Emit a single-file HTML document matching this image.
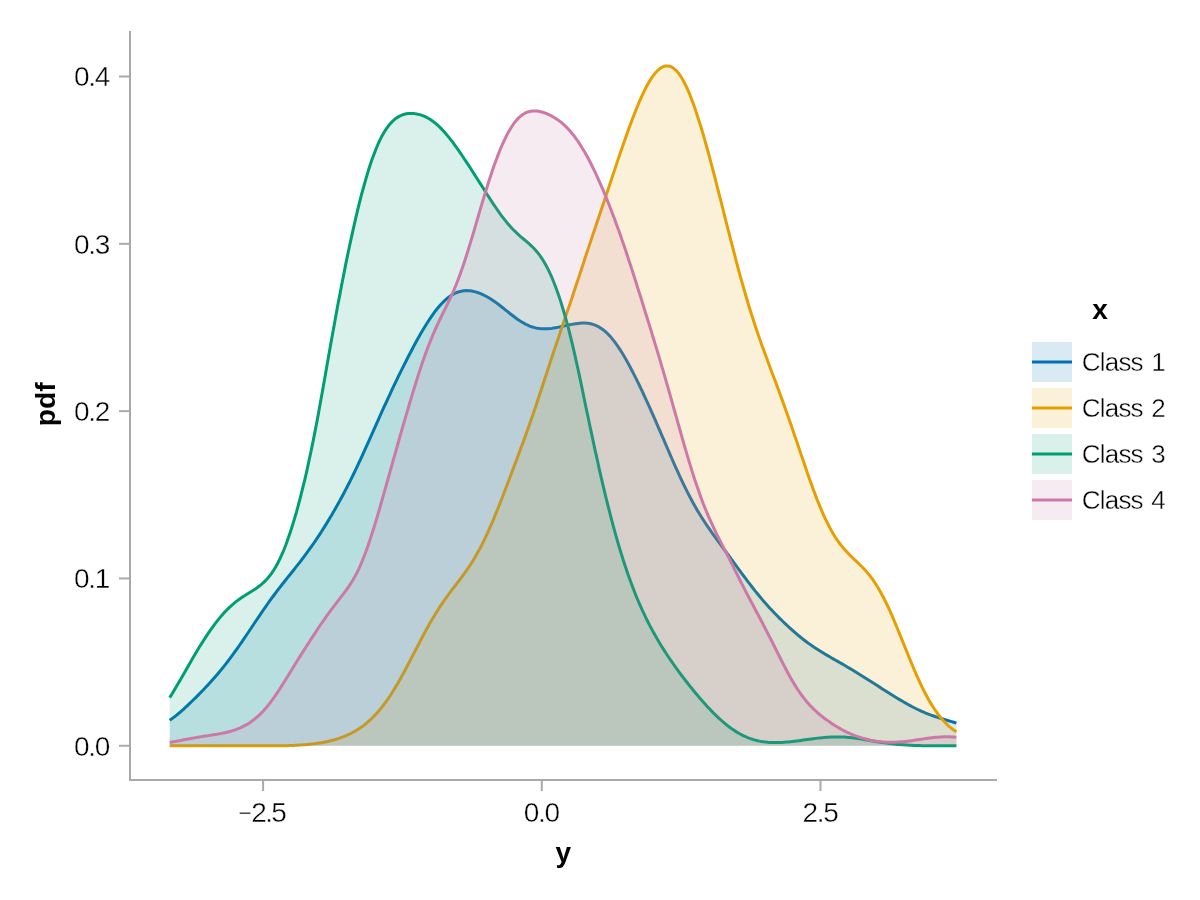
<!DOCTYPE html>
<html lang="en"><head><meta charset="utf-8"><title>Density plot</title>
<style>
html,body{margin:0;padding:0;background:#fff;}
body{width:1200px;height:900px;overflow:hidden;}
svg{display:block;}
text{font-family:"Liberation Sans",sans-serif;fill:#000;}
.tk{font-size:28px;letter-spacing:-1.25px;stroke:#fff;stroke-width:0.4px;paint-order:fill stroke;}
.lg{font-size:26px;letter-spacing:-0.8px;word-spacing:2px;stroke:#fff;stroke-width:0.4px;paint-order:fill stroke;}
.lb{font-size:28px;font-weight:bold;}
</style></head><body>
<svg width="1200" height="900" viewBox="0 0 1200 900">
<rect width="1200" height="900" fill="#fff"/>
<g id="plot">
<path d="M169.7,720.27 L171.7,718.85 L173.7,717.37 L175.7,715.83 L177.7,714.21 L179.7,712.54 L181.7,710.81 L183.7,709.02 L185.7,707.19 L187.7,705.33 L189.7,703.43 L191.7,701.50 L193.7,699.55 L195.7,697.57 L197.7,695.57 L199.7,693.55 L201.7,691.50 L203.7,689.43 L205.7,687.32 L207.7,685.19 L209.7,683.01 L211.7,680.80 L213.7,678.55 L215.7,676.26 L217.7,673.92 L219.7,671.53 L221.7,669.10 L223.7,666.61 L225.7,664.08 L227.7,661.50 L229.7,658.87 L231.7,656.18 L233.7,653.45 L235.7,650.68 L237.7,647.86 L239.7,645.00 L241.7,642.10 L243.7,639.18 L245.7,636.22 L247.7,633.25 L249.7,630.26 L251.7,627.26 L253.7,624.27 L255.7,621.27 L257.7,618.29 L259.7,615.33 L261.7,612.39 L263.7,609.48 L265.7,606.60 L267.7,603.76 L269.7,600.96 L271.7,598.21 L273.7,595.49 L275.7,592.81 L277.7,590.18 L279.7,587.58 L281.7,585.01 L283.7,582.47 L285.7,579.95 L287.7,577.44 L289.7,574.94 L291.7,572.45 L293.7,569.95 L295.7,567.43 L297.7,564.89 L299.7,562.33 L301.7,559.74 L303.7,557.11 L305.7,554.43 L307.7,551.71 L309.7,548.95 L311.7,546.13 L313.7,543.26 L315.7,540.34 L317.7,537.36 L319.7,534.33 L321.7,531.24 L323.7,528.10 L325.7,524.90 L327.7,521.64 L329.7,518.33 L331.7,514.96 L333.7,511.54 L335.7,508.05 L337.7,504.50 L339.7,500.89 L341.7,497.21 L343.7,493.47 L345.7,489.66 L347.7,485.78 L349.7,481.83 L351.7,477.81 L353.7,473.72 L355.7,469.57 L357.7,465.36 L359.7,461.08 L361.7,456.76 L363.7,452.38 L365.7,447.97 L367.7,443.52 L369.7,439.04 L371.7,434.55 L373.7,430.05 L375.7,425.54 L377.7,421.04 L379.7,416.56 L381.7,412.09 L383.7,407.65 L385.8,403.24 L387.8,398.85 L389.8,394.51 L391.8,390.19 L393.8,385.92 L395.9,381.68 L397.9,377.48 L399.9,373.31 L402.0,369.17 L404.0,365.08 L406.1,361.01 L408.1,356.99 L410.2,353.00 L412.3,349.06 L414.3,345.16 L416.4,341.33 L418.5,337.55 L420.6,333.85 L422.7,330.23 L424.8,326.71 L427.0,323.29 L429.1,320.00 L431.2,316.84 L433.3,313.83 L435.4,310.97 L437.6,308.28 L439.7,305.78 L441.8,303.46 L443.9,301.33 L446.0,299.41 L448.0,297.68 L450.1,296.15 L452.1,294.83 L454.2,293.69 L456.2,292.75 L458.2,291.99 L460.2,291.41 L462.2,290.99 L464.1,290.72 L466.1,290.61 L468.0,290.63 L469.9,290.78 L471.8,291.05 L473.7,291.43 L475.6,291.91 L477.5,292.49 L479.4,293.17 L481.2,293.93 L483.1,294.78 L485.0,295.72 L486.9,296.73 L488.8,297.82 L490.7,298.98 L492.6,300.22 L494.5,301.52 L496.4,302.89 L498.3,304.30 L500.2,305.77 L502.1,307.28 L504.1,308.81 L506.0,310.37 L508.0,311.93 L509.9,313.49 L511.9,315.03 L513.9,316.54 L515.8,318.00 L517.8,319.41 L519.8,320.75 L521.8,322.01 L523.8,323.17 L525.7,324.24 L527.7,325.20 L529.7,326.05 L531.7,326.79 L533.7,327.41 L535.7,327.92 L537.7,328.32 L539.7,328.60 L541.7,328.79 L543.7,328.87 L545.7,328.87 L547.7,328.78 L549.7,328.62 L551.7,328.39 L553.7,328.10 L555.7,327.76 L557.7,327.39 L559.7,326.98 L561.7,326.55 L563.7,326.11 L565.7,325.66 L567.7,325.22 L569.7,324.79 L571.7,324.38 L573.7,324.00 L575.7,323.67 L577.7,323.40 L579.7,323.19 L581.7,323.06 L583.7,323.01 L585.7,323.08 L587.7,323.25 L589.7,323.56 L591.7,324.00 L593.7,324.60 L595.7,325.36 L597.7,326.29 L599.7,327.41 L601.7,328.71 L603.7,330.20 L605.7,331.89 L607.7,333.78 L609.7,335.86 L611.7,338.13 L613.7,340.60 L615.7,343.25 L617.7,346.07 L619.7,349.06 L621.7,352.21 L623.7,355.51 L625.7,358.95 L627.7,362.51 L629.7,366.19 L631.7,369.97 L633.7,373.86 L635.7,377.83 L637.7,381.89 L639.7,386.02 L641.7,390.22 L643.7,394.49 L645.7,398.81 L647.7,403.19 L649.7,407.63 L651.7,412.11 L653.7,416.63 L655.7,421.19 L657.7,425.78 L659.7,430.40 L661.7,435.04 L663.7,439.69 L665.7,444.35 L667.7,448.99 L669.7,453.62 L671.7,458.23 L673.7,462.79 L675.7,467.30 L677.7,471.74 L679.7,476.12 L681.7,480.41 L683.7,484.60 L685.7,488.70 L687.7,492.68 L689.7,496.56 L691.7,500.32 L693.7,503.96 L695.7,507.49 L697.7,510.91 L699.7,514.22 L701.7,517.43 L703.7,520.55 L705.7,523.58 L707.7,526.54 L709.7,529.44 L711.7,532.29 L713.7,535.09 L715.7,537.86 L717.7,540.60 L719.7,543.33 L721.7,546.06 L723.7,548.77 L725.7,551.49 L727.7,554.21 L729.7,556.94 L731.7,559.67 L733.7,562.41 L735.7,565.14 L737.7,567.87 L739.7,570.60 L741.7,573.31 L743.7,576.01 L745.7,578.69 L747.7,581.34 L749.7,583.95 L751.7,586.54 L753.7,589.09 L755.7,591.59 L757.7,594.05 L759.7,596.47 L761.7,598.85 L763.7,601.18 L765.7,603.46 L767.7,605.70 L769.7,607.90 L771.7,610.06 L773.7,612.18 L775.7,614.27 L777.7,616.31 L779.7,618.32 L781.7,620.30 L783.7,622.24 L785.7,624.15 L787.7,626.03 L789.7,627.87 L791.7,629.67 L793.7,631.44 L795.7,633.17 L797.7,634.86 L799.7,636.52 L801.7,638.13 L803.7,639.70 L805.7,641.23 L807.7,642.71 L809.7,644.16 L811.7,645.56 L813.7,646.93 L815.7,648.26 L817.7,649.55 L819.7,650.81 L821.7,652.05 L823.7,653.26 L825.7,654.45 L827.7,655.62 L829.7,656.78 L831.7,657.93 L833.7,659.08 L835.7,660.22 L837.7,661.36 L839.7,662.51 L841.7,663.66 L843.7,664.82 L845.7,665.99 L847.7,667.17 L849.7,668.36 L851.7,669.56 L853.7,670.77 L855.7,671.99 L857.7,673.22 L859.7,674.45 L861.7,675.70 L863.7,676.95 L865.7,678.21 L867.7,679.48 L869.7,680.74 L871.7,682.01 L873.7,683.29 L875.7,684.56 L877.7,685.84 L879.7,687.11 L881.7,688.39 L883.7,689.66 L885.7,690.93 L887.7,692.20 L889.7,693.46 L891.7,694.71 L893.7,695.96 L895.7,697.20 L897.7,698.42 L899.7,699.63 L901.7,700.83 L903.7,702.00 L905.7,703.16 L907.7,704.29 L909.7,705.39 L911.7,706.46 L913.7,707.51 L915.7,708.52 L917.7,709.49 L919.7,710.43 L921.7,711.34 L923.7,712.21 L925.7,713.04 L927.7,713.84 L929.7,714.60 L931.7,715.34 L933.7,716.04 L935.7,716.73 L937.7,717.38 L939.7,718.02 L941.7,718.65 L943.7,719.26 L945.7,719.86 L947.7,720.47 L949.7,721.07 L951.7,721.67 L953.7,722.28 L955.7,722.90 L956.4,723.12 L956.4,745.75 L169.7,745.75 Z" fill="#0072B2" fill-opacity="0.15" stroke="none"/>
<path d="M169.7,720.27 L171.7,718.85 L173.7,717.37 L175.7,715.83 L177.7,714.21 L179.7,712.54 L181.7,710.81 L183.7,709.02 L185.7,707.19 L187.7,705.33 L189.7,703.43 L191.7,701.50 L193.7,699.55 L195.7,697.57 L197.7,695.57 L199.7,693.55 L201.7,691.50 L203.7,689.43 L205.7,687.32 L207.7,685.19 L209.7,683.01 L211.7,680.80 L213.7,678.55 L215.7,676.26 L217.7,673.92 L219.7,671.53 L221.7,669.10 L223.7,666.61 L225.7,664.08 L227.7,661.50 L229.7,658.87 L231.7,656.18 L233.7,653.45 L235.7,650.68 L237.7,647.86 L239.7,645.00 L241.7,642.10 L243.7,639.18 L245.7,636.22 L247.7,633.25 L249.7,630.26 L251.7,627.26 L253.7,624.27 L255.7,621.27 L257.7,618.29 L259.7,615.33 L261.7,612.39 L263.7,609.48 L265.7,606.60 L267.7,603.76 L269.7,600.96 L271.7,598.21 L273.7,595.49 L275.7,592.81 L277.7,590.18 L279.7,587.58 L281.7,585.01 L283.7,582.47 L285.7,579.95 L287.7,577.44 L289.7,574.94 L291.7,572.45 L293.7,569.95 L295.7,567.43 L297.7,564.89 L299.7,562.33 L301.7,559.74 L303.7,557.11 L305.7,554.43 L307.7,551.71 L309.7,548.95 L311.7,546.13 L313.7,543.26 L315.7,540.34 L317.7,537.36 L319.7,534.33 L321.7,531.24 L323.7,528.10 L325.7,524.90 L327.7,521.64 L329.7,518.33 L331.7,514.96 L333.7,511.54 L335.7,508.05 L337.7,504.50 L339.7,500.89 L341.7,497.21 L343.7,493.47 L345.7,489.66 L347.7,485.78 L349.7,481.83 L351.7,477.81 L353.7,473.72 L355.7,469.57 L357.7,465.36 L359.7,461.08 L361.7,456.76 L363.7,452.38 L365.7,447.97 L367.7,443.52 L369.7,439.04 L371.7,434.55 L373.7,430.05 L375.7,425.54 L377.7,421.04 L379.7,416.56 L381.7,412.09 L383.7,407.65 L385.8,403.24 L387.8,398.85 L389.8,394.51 L391.8,390.19 L393.8,385.92 L395.9,381.68 L397.9,377.48 L399.9,373.31 L402.0,369.17 L404.0,365.08 L406.1,361.01 L408.1,356.99 L410.2,353.00 L412.3,349.06 L414.3,345.16 L416.4,341.33 L418.5,337.55 L420.6,333.85 L422.7,330.23 L424.8,326.71 L427.0,323.29 L429.1,320.00 L431.2,316.84 L433.3,313.83 L435.4,310.97 L437.6,308.28 L439.7,305.78 L441.8,303.46 L443.9,301.33 L446.0,299.41 L448.0,297.68 L450.1,296.15 L452.1,294.83 L454.2,293.69 L456.2,292.75 L458.2,291.99 L460.2,291.41 L462.2,290.99 L464.1,290.72 L466.1,290.61 L468.0,290.63 L469.9,290.78 L471.8,291.05 L473.7,291.43 L475.6,291.91 L477.5,292.49 L479.4,293.17 L481.2,293.93 L483.1,294.78 L485.0,295.72 L486.9,296.73 L488.8,297.82 L490.7,298.98 L492.6,300.22 L494.5,301.52 L496.4,302.89 L498.3,304.30 L500.2,305.77 L502.1,307.28 L504.1,308.81 L506.0,310.37 L508.0,311.93 L509.9,313.49 L511.9,315.03 L513.9,316.54 L515.8,318.00 L517.8,319.41 L519.8,320.75 L521.8,322.01 L523.8,323.17 L525.7,324.24 L527.7,325.20 L529.7,326.05 L531.7,326.79 L533.7,327.41 L535.7,327.92 L537.7,328.32 L539.7,328.60 L541.7,328.79 L543.7,328.87 L545.7,328.87 L547.7,328.78 L549.7,328.62 L551.7,328.39 L553.7,328.10 L555.7,327.76 L557.7,327.39 L559.7,326.98 L561.7,326.55 L563.7,326.11 L565.7,325.66 L567.7,325.22 L569.7,324.79 L571.7,324.38 L573.7,324.00 L575.7,323.67 L577.7,323.40 L579.7,323.19 L581.7,323.06 L583.7,323.01 L585.7,323.08 L587.7,323.25 L589.7,323.56 L591.7,324.00 L593.7,324.60 L595.7,325.36 L597.7,326.29 L599.7,327.41 L601.7,328.71 L603.7,330.20 L605.7,331.89 L607.7,333.78 L609.7,335.86 L611.7,338.13 L613.7,340.60 L615.7,343.25 L617.7,346.07 L619.7,349.06 L621.7,352.21 L623.7,355.51 L625.7,358.95 L627.7,362.51 L629.7,366.19 L631.7,369.97 L633.7,373.86 L635.7,377.83 L637.7,381.89 L639.7,386.02 L641.7,390.22 L643.7,394.49 L645.7,398.81 L647.7,403.19 L649.7,407.63 L651.7,412.11 L653.7,416.63 L655.7,421.19 L657.7,425.78 L659.7,430.40 L661.7,435.04 L663.7,439.69 L665.7,444.35 L667.7,448.99 L669.7,453.62 L671.7,458.23 L673.7,462.79 L675.7,467.30 L677.7,471.74 L679.7,476.12 L681.7,480.41 L683.7,484.60 L685.7,488.70 L687.7,492.68 L689.7,496.56 L691.7,500.32 L693.7,503.96 L695.7,507.49 L697.7,510.91 L699.7,514.22 L701.7,517.43 L703.7,520.55 L705.7,523.58 L707.7,526.54 L709.7,529.44 L711.7,532.29 L713.7,535.09 L715.7,537.86 L717.7,540.60 L719.7,543.33 L721.7,546.06 L723.7,548.77 L725.7,551.49 L727.7,554.21 L729.7,556.94 L731.7,559.67 L733.7,562.41 L735.7,565.14 L737.7,567.87 L739.7,570.60 L741.7,573.31 L743.7,576.01 L745.7,578.69 L747.7,581.34 L749.7,583.95 L751.7,586.54 L753.7,589.09 L755.7,591.59 L757.7,594.05 L759.7,596.47 L761.7,598.85 L763.7,601.18 L765.7,603.46 L767.7,605.70 L769.7,607.90 L771.7,610.06 L773.7,612.18 L775.7,614.27 L777.7,616.31 L779.7,618.32 L781.7,620.30 L783.7,622.24 L785.7,624.15 L787.7,626.03 L789.7,627.87 L791.7,629.67 L793.7,631.44 L795.7,633.17 L797.7,634.86 L799.7,636.52 L801.7,638.13 L803.7,639.70 L805.7,641.23 L807.7,642.71 L809.7,644.16 L811.7,645.56 L813.7,646.93 L815.7,648.26 L817.7,649.55 L819.7,650.81 L821.7,652.05 L823.7,653.26 L825.7,654.45 L827.7,655.62 L829.7,656.78 L831.7,657.93 L833.7,659.08 L835.7,660.22 L837.7,661.36 L839.7,662.51 L841.7,663.66 L843.7,664.82 L845.7,665.99 L847.7,667.17 L849.7,668.36 L851.7,669.56 L853.7,670.77 L855.7,671.99 L857.7,673.22 L859.7,674.45 L861.7,675.70 L863.7,676.95 L865.7,678.21 L867.7,679.48 L869.7,680.74 L871.7,682.01 L873.7,683.29 L875.7,684.56 L877.7,685.84 L879.7,687.11 L881.7,688.39 L883.7,689.66 L885.7,690.93 L887.7,692.20 L889.7,693.46 L891.7,694.71 L893.7,695.96 L895.7,697.20 L897.7,698.42 L899.7,699.63 L901.7,700.83 L903.7,702.00 L905.7,703.16 L907.7,704.29 L909.7,705.39 L911.7,706.46 L913.7,707.51 L915.7,708.52 L917.7,709.49 L919.7,710.43 L921.7,711.34 L923.7,712.21 L925.7,713.04 L927.7,713.84 L929.7,714.60 L931.7,715.34 L933.7,716.04 L935.7,716.73 L937.7,717.38 L939.7,718.02 L941.7,718.65 L943.7,719.26 L945.7,719.86 L947.7,720.47 L949.7,721.07 L951.7,721.67 L953.7,722.28 L955.7,722.90 L956.4,723.12" fill="none" stroke="#0072B2" stroke-width="3" stroke-linejoin="round"/>
<path d="M169.7,745.75 L171.7,745.75 L173.7,745.75 L175.7,745.75 L177.7,745.75 L179.7,745.75 L181.7,745.75 L183.7,745.75 L185.7,745.75 L187.7,745.75 L189.7,745.75 L191.7,745.75 L193.7,745.75 L195.7,745.75 L197.7,745.75 L199.7,745.75 L201.7,745.75 L203.7,745.75 L205.7,745.75 L207.7,745.75 L209.7,745.75 L211.7,745.75 L213.7,745.75 L215.7,745.75 L217.7,745.75 L219.7,745.75 L221.7,745.75 L223.7,745.75 L225.7,745.75 L227.7,745.75 L229.7,745.75 L231.7,745.75 L233.7,745.75 L235.7,745.75 L237.7,745.75 L239.7,745.75 L241.7,745.75 L243.7,745.75 L245.7,745.75 L247.7,745.75 L249.7,745.75 L251.7,745.75 L253.7,745.75 L255.7,745.75 L257.7,745.75 L259.7,745.75 L261.7,745.75 L263.7,745.75 L265.7,745.75 L267.7,745.75 L269.7,745.75 L271.7,745.75 L273.7,745.75 L275.7,745.75 L277.7,745.75 L279.7,745.75 L281.7,745.75 L283.7,745.73 L285.7,745.68 L287.7,745.63 L289.7,745.56 L291.7,745.49 L293.7,745.42 L295.7,745.33 L297.7,745.23 L299.7,745.11 L301.7,744.99 L303.7,744.84 L305.7,744.69 L307.7,744.51 L309.7,744.32 L311.7,744.10 L313.7,743.87 L315.7,743.61 L317.7,743.33 L319.7,743.02 L321.7,742.69 L323.7,742.32 L325.7,741.93 L327.7,741.50 L329.7,741.04 L331.7,740.54 L333.7,740.00 L335.7,739.42 L337.7,738.80 L339.7,738.13 L341.7,737.41 L343.7,736.65 L345.7,735.82 L347.7,734.94 L349.7,734.00 L351.7,733.00 L353.7,731.92 L355.7,730.78 L357.7,729.56 L359.7,728.25 L361.7,726.86 L363.7,725.39 L365.7,723.82 L367.7,722.14 L369.7,720.37 L371.7,718.49 L373.7,716.50 L375.7,714.40 L377.7,712.18 L379.7,709.84 L381.7,707.38 L383.7,704.79 L385.7,702.09 L387.7,699.26 L389.7,696.32 L391.7,693.25 L393.7,690.08 L395.7,686.79 L397.7,683.40 L399.7,679.92 L401.7,676.35 L403.7,672.70 L405.7,668.98 L407.7,665.21 L409.7,661.40 L411.7,657.55 L413.7,653.68 L415.7,649.81 L417.7,645.94 L419.7,642.10 L421.7,638.28 L423.7,634.52 L425.7,630.81 L427.7,627.17 L429.7,623.60 L431.7,620.12 L433.7,616.73 L435.7,613.44 L437.7,610.23 L439.7,607.13 L441.7,604.12 L443.7,601.19 L445.7,598.35 L447.7,595.58 L449.7,592.87 L451.7,590.21 L453.7,587.58 L455.7,584.98 L457.7,582.37 L459.7,579.75 L461.7,577.10 L463.7,574.39 L465.7,571.61 L467.7,568.75 L469.7,565.78 L471.7,562.70 L473.7,559.48 L475.7,556.12 L477.7,552.61 L479.7,548.94 L481.7,545.10 L483.7,541.10 L485.7,536.93 L487.7,532.60 L489.7,528.11 L491.8,523.47 L493.8,518.68 L495.8,513.75 L497.8,508.70 L499.9,503.54 L502.0,498.27 L504.0,492.92 L506.1,487.49 L508.2,481.99 L510.3,476.43 L512.4,470.83 L514.5,465.20 L516.7,459.53 L518.8,453.85 L520.9,448.14 L523.0,442.43 L525.1,436.70 L527.1,430.97 L529.2,425.24 L531.2,419.50 L533.2,413.76 L535.2,408.01 L537.1,402.27 L539.0,396.52 L540.9,390.77 L542.8,385.03 L544.7,379.28 L546.6,373.53 L548.4,367.79 L550.3,362.04 L552.2,356.31 L554.1,350.58 L556.0,344.85 L558.0,339.13 L559.9,333.42 L561.8,327.71 L563.7,322.00 L565.7,316.30 L567.6,310.59 L569.6,304.88 L571.5,299.17 L573.4,293.44 L575.3,287.69 L577.2,281.92 L579.2,276.12 L581.1,270.30 L583.0,264.44 L584.9,258.54 L586.9,252.60 L588.9,246.63 L590.9,240.61 L592.9,234.55 L595.0,228.46 L597.0,222.34 L599.1,216.18 L601.2,210.01 L603.3,203.82 L605.4,197.63 L607.4,191.44 L609.5,185.26 L611.5,179.10 L613.6,172.98 L615.6,166.89 L617.6,160.86 L619.6,154.89 L621.7,148.99 L623.7,143.17 L625.7,137.45 L627.7,131.83 L629.7,126.33 L631.7,120.96 L633.7,115.73 L635.7,110.66 L637.7,105.77 L639.6,101.06 L641.6,96.57 L643.6,92.30 L645.6,88.29 L647.6,84.55 L649.6,81.09 L651.6,77.95 L653.6,75.14 L655.6,72.67 L657.6,70.56 L659.6,68.83 L661.5,67.49 L663.5,66.55 L665.5,66.02 L667.5,65.90 L669.5,66.22 L671.5,66.97 L673.4,68.17 L675.4,69.81 L677.4,71.89 L679.4,74.41 L681.4,77.38 L683.3,80.76 L685.3,84.56 L687.3,88.76 L689.3,93.33 L691.2,98.26 L693.2,103.53 L695.2,109.11 L697.1,114.98 L699.1,121.13 L701.1,127.52 L703.1,134.13 L705.0,140.96 L707.0,147.97 L709.0,155.15 L710.9,162.47 L712.9,169.93 L714.9,177.50 L716.8,185.16 L718.8,192.89 L720.8,200.68 L722.8,208.50 L724.7,216.34 L726.7,224.18 L728.7,231.99 L730.7,239.77 L732.7,247.47 L734.7,255.10 L736.6,262.63 L738.6,270.04 L740.6,277.32 L742.6,284.46 L744.6,291.45 L746.6,298.28 L748.6,304.95 L750.6,311.44 L752.6,317.78 L754.6,323.96 L756.6,329.98 L758.6,335.87 L760.6,341.63 L762.6,347.28 L764.7,352.83 L766.7,358.32 L768.7,363.75 L770.7,369.15 L772.7,374.53 L774.8,379.92 L776.8,385.34 L778.8,390.79 L780.8,396.29 L782.9,401.85 L784.9,407.48 L786.9,413.18 L789.0,418.94 L791.0,424.78 L793.0,430.68 L795.0,436.62 L797.1,442.61 L799.1,448.61 L801.1,454.61 L803.2,460.60 L805.2,466.54 L807.2,472.43 L809.2,478.23 L811.3,483.92 L813.3,489.47 L815.3,494.88 L817.3,500.12 L819.4,505.16 L821.4,510.00 L823.4,514.63 L825.4,519.02 L827.5,523.19 L829.5,527.11 L831.5,530.80 L833.5,534.25 L835.5,537.47 L837.5,540.47 L839.5,543.27 L841.6,545.88 L843.6,548.31 L845.6,550.60 L847.6,552.75 L849.6,554.81 L851.6,556.78 L853.6,558.71 L855.6,560.61 L857.6,562.52 L859.6,564.46 L861.6,566.46 L863.7,568.54 L865.7,570.73 L867.7,573.05 L869.7,575.52 L871.7,578.16 L873.7,580.97 L875.7,583.98 L877.7,587.18 L879.7,590.58 L881.7,594.18 L883.7,597.98 L885.7,601.97 L887.7,606.14 L889.7,610.49 L891.7,614.98 L893.7,619.61 L895.7,624.36 L897.7,629.20 L899.7,634.11 L901.7,639.07 L903.7,644.06 L905.7,649.05 L907.7,654.01 L909.7,658.93 L911.7,663.77 L913.7,668.53 L915.7,673.19 L917.7,677.71 L919.7,682.10 L921.7,686.33 L923.7,690.39 L925.7,694.28 L927.7,697.99 L929.7,701.52 L931.7,704.86 L933.7,708.00 L935.7,710.96 L937.7,713.74 L939.7,716.33 L941.7,718.75 L943.7,721.00 L945.7,723.08 L947.7,725.01 L949.7,726.79 L951.7,728.43 L953.7,729.94 L955.7,731.33 L956.4,731.79 L956.4,745.75 L169.7,745.75 Z" fill="#E69F00" fill-opacity="0.15" stroke="none"/>
<path d="M169.7,745.75 L171.7,745.75 L173.7,745.75 L175.7,745.75 L177.7,745.75 L179.7,745.75 L181.7,745.75 L183.7,745.75 L185.7,745.75 L187.7,745.75 L189.7,745.75 L191.7,745.75 L193.7,745.75 L195.7,745.75 L197.7,745.75 L199.7,745.75 L201.7,745.75 L203.7,745.75 L205.7,745.75 L207.7,745.75 L209.7,745.75 L211.7,745.75 L213.7,745.75 L215.7,745.75 L217.7,745.75 L219.7,745.75 L221.7,745.75 L223.7,745.75 L225.7,745.75 L227.7,745.75 L229.7,745.75 L231.7,745.75 L233.7,745.75 L235.7,745.75 L237.7,745.75 L239.7,745.75 L241.7,745.75 L243.7,745.75 L245.7,745.75 L247.7,745.75 L249.7,745.75 L251.7,745.75 L253.7,745.75 L255.7,745.75 L257.7,745.75 L259.7,745.75 L261.7,745.75 L263.7,745.75 L265.7,745.75 L267.7,745.75 L269.7,745.75 L271.7,745.75 L273.7,745.75 L275.7,745.75 L277.7,745.75 L279.7,745.75 L281.7,745.75 L283.7,745.73 L285.7,745.68 L287.7,745.63 L289.7,745.56 L291.7,745.49 L293.7,745.42 L295.7,745.33 L297.7,745.23 L299.7,745.11 L301.7,744.99 L303.7,744.84 L305.7,744.69 L307.7,744.51 L309.7,744.32 L311.7,744.10 L313.7,743.87 L315.7,743.61 L317.7,743.33 L319.7,743.02 L321.7,742.69 L323.7,742.32 L325.7,741.93 L327.7,741.50 L329.7,741.04 L331.7,740.54 L333.7,740.00 L335.7,739.42 L337.7,738.80 L339.7,738.13 L341.7,737.41 L343.7,736.65 L345.7,735.82 L347.7,734.94 L349.7,734.00 L351.7,733.00 L353.7,731.92 L355.7,730.78 L357.7,729.56 L359.7,728.25 L361.7,726.86 L363.7,725.39 L365.7,723.82 L367.7,722.14 L369.7,720.37 L371.7,718.49 L373.7,716.50 L375.7,714.40 L377.7,712.18 L379.7,709.84 L381.7,707.38 L383.7,704.79 L385.7,702.09 L387.7,699.26 L389.7,696.32 L391.7,693.25 L393.7,690.08 L395.7,686.79 L397.7,683.40 L399.7,679.92 L401.7,676.35 L403.7,672.70 L405.7,668.98 L407.7,665.21 L409.7,661.40 L411.7,657.55 L413.7,653.68 L415.7,649.81 L417.7,645.94 L419.7,642.10 L421.7,638.28 L423.7,634.52 L425.7,630.81 L427.7,627.17 L429.7,623.60 L431.7,620.12 L433.7,616.73 L435.7,613.44 L437.7,610.23 L439.7,607.13 L441.7,604.12 L443.7,601.19 L445.7,598.35 L447.7,595.58 L449.7,592.87 L451.7,590.21 L453.7,587.58 L455.7,584.98 L457.7,582.37 L459.7,579.75 L461.7,577.10 L463.7,574.39 L465.7,571.61 L467.7,568.75 L469.7,565.78 L471.7,562.70 L473.7,559.48 L475.7,556.12 L477.7,552.61 L479.7,548.94 L481.7,545.10 L483.7,541.10 L485.7,536.93 L487.7,532.60 L489.7,528.11 L491.8,523.47 L493.8,518.68 L495.8,513.75 L497.8,508.70 L499.9,503.54 L502.0,498.27 L504.0,492.92 L506.1,487.49 L508.2,481.99 L510.3,476.43 L512.4,470.83 L514.5,465.20 L516.7,459.53 L518.8,453.85 L520.9,448.14 L523.0,442.43 L525.1,436.70 L527.1,430.97 L529.2,425.24 L531.2,419.50 L533.2,413.76 L535.2,408.01 L537.1,402.27 L539.0,396.52 L540.9,390.77 L542.8,385.03 L544.7,379.28 L546.6,373.53 L548.4,367.79 L550.3,362.04 L552.2,356.31 L554.1,350.58 L556.0,344.85 L558.0,339.13 L559.9,333.42 L561.8,327.71 L563.7,322.00 L565.7,316.30 L567.6,310.59 L569.6,304.88 L571.5,299.17 L573.4,293.44 L575.3,287.69 L577.2,281.92 L579.2,276.12 L581.1,270.30 L583.0,264.44 L584.9,258.54 L586.9,252.60 L588.9,246.63 L590.9,240.61 L592.9,234.55 L595.0,228.46 L597.0,222.34 L599.1,216.18 L601.2,210.01 L603.3,203.82 L605.4,197.63 L607.4,191.44 L609.5,185.26 L611.5,179.10 L613.6,172.98 L615.6,166.89 L617.6,160.86 L619.6,154.89 L621.7,148.99 L623.7,143.17 L625.7,137.45 L627.7,131.83 L629.7,126.33 L631.7,120.96 L633.7,115.73 L635.7,110.66 L637.7,105.77 L639.6,101.06 L641.6,96.57 L643.6,92.30 L645.6,88.29 L647.6,84.55 L649.6,81.09 L651.6,77.95 L653.6,75.14 L655.6,72.67 L657.6,70.56 L659.6,68.83 L661.5,67.49 L663.5,66.55 L665.5,66.02 L667.5,65.90 L669.5,66.22 L671.5,66.97 L673.4,68.17 L675.4,69.81 L677.4,71.89 L679.4,74.41 L681.4,77.38 L683.3,80.76 L685.3,84.56 L687.3,88.76 L689.3,93.33 L691.2,98.26 L693.2,103.53 L695.2,109.11 L697.1,114.98 L699.1,121.13 L701.1,127.52 L703.1,134.13 L705.0,140.96 L707.0,147.97 L709.0,155.15 L710.9,162.47 L712.9,169.93 L714.9,177.50 L716.8,185.16 L718.8,192.89 L720.8,200.68 L722.8,208.50 L724.7,216.34 L726.7,224.18 L728.7,231.99 L730.7,239.77 L732.7,247.47 L734.7,255.10 L736.6,262.63 L738.6,270.04 L740.6,277.32 L742.6,284.46 L744.6,291.45 L746.6,298.28 L748.6,304.95 L750.6,311.44 L752.6,317.78 L754.6,323.96 L756.6,329.98 L758.6,335.87 L760.6,341.63 L762.6,347.28 L764.7,352.83 L766.7,358.32 L768.7,363.75 L770.7,369.15 L772.7,374.53 L774.8,379.92 L776.8,385.34 L778.8,390.79 L780.8,396.29 L782.9,401.85 L784.9,407.48 L786.9,413.18 L789.0,418.94 L791.0,424.78 L793.0,430.68 L795.0,436.62 L797.1,442.61 L799.1,448.61 L801.1,454.61 L803.2,460.60 L805.2,466.54 L807.2,472.43 L809.2,478.23 L811.3,483.92 L813.3,489.47 L815.3,494.88 L817.3,500.12 L819.4,505.16 L821.4,510.00 L823.4,514.63 L825.4,519.02 L827.5,523.19 L829.5,527.11 L831.5,530.80 L833.5,534.25 L835.5,537.47 L837.5,540.47 L839.5,543.27 L841.6,545.88 L843.6,548.31 L845.6,550.60 L847.6,552.75 L849.6,554.81 L851.6,556.78 L853.6,558.71 L855.6,560.61 L857.6,562.52 L859.6,564.46 L861.6,566.46 L863.7,568.54 L865.7,570.73 L867.7,573.05 L869.7,575.52 L871.7,578.16 L873.7,580.97 L875.7,583.98 L877.7,587.18 L879.7,590.58 L881.7,594.18 L883.7,597.98 L885.7,601.97 L887.7,606.14 L889.7,610.49 L891.7,614.98 L893.7,619.61 L895.7,624.36 L897.7,629.20 L899.7,634.11 L901.7,639.07 L903.7,644.06 L905.7,649.05 L907.7,654.01 L909.7,658.93 L911.7,663.77 L913.7,668.53 L915.7,673.19 L917.7,677.71 L919.7,682.10 L921.7,686.33 L923.7,690.39 L925.7,694.28 L927.7,697.99 L929.7,701.52 L931.7,704.86 L933.7,708.00 L935.7,710.96 L937.7,713.74 L939.7,716.33 L941.7,718.75 L943.7,721.00 L945.7,723.08 L947.7,725.01 L949.7,726.79 L951.7,728.43 L953.7,729.94 L955.7,731.33 L956.4,731.79" fill="none" stroke="#E69F00" stroke-width="3" stroke-linejoin="round"/>
<path d="M169.7,697.65 L171.7,694.42 L173.7,691.12 L175.7,687.76 L177.7,684.35 L179.7,680.91 L181.7,677.43 L183.7,673.94 L185.7,670.44 L187.7,666.95 L189.7,663.47 L191.7,660.01 L193.7,656.58 L195.7,653.19 L197.7,649.85 L199.7,646.56 L201.7,643.34 L203.7,640.18 L205.7,637.09 L207.7,634.08 L209.7,631.15 L211.7,628.31 L213.7,625.56 L215.7,622.90 L217.7,620.33 L219.7,617.87 L221.7,615.51 L223.7,613.25 L225.7,611.10 L227.7,609.05 L229.7,607.11 L231.7,605.28 L233.7,603.55 L235.7,601.92 L237.7,600.38 L239.7,598.93 L241.7,597.55 L243.7,596.24 L245.7,594.97 L247.7,593.73 L249.7,592.51 L251.7,591.28 L253.7,590.02 L255.7,588.71 L257.7,587.31 L259.7,585.82 L261.7,584.19 L263.7,582.40 L265.7,580.42 L267.7,578.23 L269.7,575.79 L271.7,573.09 L273.7,570.08 L275.8,566.76 L277.8,563.08 L279.8,559.04 L281.8,554.61 L283.9,549.78 L286.0,544.54 L288.0,538.87 L290.1,532.78 L292.2,526.26 L294.3,519.32 L296.5,511.97 L298.6,504.22 L300.7,496.09 L302.8,487.60 L305.0,478.77 L307.1,469.62 L309.1,460.19 L311.2,450.51 L313.2,440.60 L315.2,430.50 L317.2,420.23 L319.1,409.82 L321.0,399.32 L322.9,388.73 L324.8,378.09 L326.6,367.43 L328.5,356.76 L330.4,346.11 L332.3,335.50 L334.2,324.95 L336.1,314.48 L338.0,304.10 L340.0,293.84 L341.9,283.70 L343.9,273.71 L345.8,263.89 L347.8,254.25 L349.8,244.81 L351.8,235.59 L353.8,226.61 L355.8,217.89 L357.8,209.45 L359.8,201.31 L361.8,193.49 L363.9,186.01 L365.9,178.88 L367.9,172.12 L369.9,165.74 L371.9,159.76 L374.0,154.18 L376.0,149.00 L378.0,144.23 L380.0,139.87 L382.0,135.90 L384.1,132.32 L386.1,129.12 L388.1,126.28 L390.2,123.78 L392.2,121.62 L394.2,119.75 L396.2,118.17 L398.3,116.86 L400.3,115.78 L402.3,114.93 L404.4,114.29 L406.4,113.83 L408.4,113.54 L410.5,113.42 L412.5,113.44 L414.5,113.61 L416.5,113.91 L418.6,114.35 L420.6,114.92 L422.6,115.62 L424.6,116.46 L426.6,117.43 L428.7,118.54 L430.7,119.79 L432.7,121.18 L434.7,122.70 L436.7,124.37 L438.7,126.17 L440.7,128.11 L442.7,130.18 L444.7,132.37 L446.7,134.68 L448.7,137.09 L450.7,139.61 L452.7,142.21 L454.6,144.90 L456.6,147.65 L458.6,150.47 L460.6,153.34 L462.6,156.25 L464.5,159.20 L466.5,162.19 L468.5,165.20 L470.5,168.24 L472.4,171.30 L474.4,174.37 L476.4,177.45 L478.3,180.55 L480.3,183.65 L482.3,186.75 L484.3,189.85 L486.2,192.95 L488.2,196.02 L490.2,199.07 L492.1,202.09 L494.1,205.06 L496.1,207.98 L498.1,210.83 L500.0,213.61 L502.0,216.30 L504.0,218.89 L506.0,221.38 L507.9,223.76 L509.9,226.02 L511.9,228.18 L513.9,230.22 L515.9,232.17 L517.9,234.03 L519.8,235.81 L521.8,237.54 L523.8,239.23 L525.8,240.93 L527.8,242.65 L529.8,244.43 L531.8,246.30 L533.8,248.30 L535.8,250.47 L537.8,252.84 L539.8,255.44 L541.8,258.32 L543.8,261.50 L545.8,265.00 L547.9,268.86 L549.9,273.09 L552.0,277.71 L554.0,282.72 L556.1,288.14 L558.2,293.95 L560.3,300.16 L562.3,306.76 L564.4,313.72 L566.5,321.04 L568.5,328.69 L570.5,336.64 L572.5,344.86 L574.5,353.33 L576.4,362.01 L578.4,370.87 L580.3,379.88 L582.2,389.00 L584.1,398.20 L586.0,407.44 L588.0,416.71 L589.9,425.95 L591.9,435.16 L593.8,444.30 L595.8,453.34 L597.8,462.28 L599.7,471.07 L601.7,479.71 L603.7,488.19 L605.7,496.48 L607.7,504.57 L609.7,512.46 L611.7,520.14 L613.7,527.60 L615.7,534.83 L617.7,541.84 L619.7,548.61 L621.7,555.16 L623.7,561.48 L625.7,567.58 L627.7,573.45 L629.7,579.11 L631.7,584.56 L633.7,589.80 L635.7,594.85 L637.7,599.71 L639.7,604.39 L641.7,608.89 L643.7,613.23 L645.7,617.42 L647.7,621.46 L649.7,625.37 L651.7,629.15 L653.7,632.81 L655.7,636.36 L657.7,639.80 L659.7,643.15 L661.7,646.42 L663.7,649.60 L665.7,652.71 L667.7,655.75 L669.7,658.72 L671.7,661.64 L673.7,664.50 L675.7,667.31 L677.7,670.08 L679.7,672.80 L681.7,675.48 L683.7,678.12 L685.7,680.72 L687.7,683.28 L689.7,685.81 L691.7,688.31 L693.7,690.77 L695.7,693.19 L697.7,695.58 L699.7,697.93 L701.7,700.24 L703.7,702.52 L705.7,704.75 L707.7,706.93 L709.7,709.07 L711.7,711.16 L713.7,713.19 L715.7,715.17 L717.7,717.10 L719.7,718.96 L721.7,720.76 L723.7,722.49 L725.7,724.15 L727.7,725.74 L729.7,727.27 L731.7,728.71 L733.7,730.08 L735.7,731.38 L737.7,732.60 L739.7,733.74 L741.7,734.81 L743.7,735.80 L745.7,736.71 L747.7,737.55 L749.7,738.32 L751.7,739.01 L753.7,739.64 L755.7,740.20 L757.7,740.69 L759.7,741.12 L761.7,741.49 L763.8,741.80 L765.8,742.05 L767.8,742.26 L769.8,742.41 L771.8,742.51 L773.8,742.57 L775.9,742.58 L777.9,742.56 L780.0,742.50 L782.0,742.40 L784.1,742.27 L786.1,742.11 L788.2,741.93 L790.3,741.72 L792.4,741.48 L794.5,741.23 L796.6,740.97 L798.7,740.69 L800.8,740.40 L802.9,740.11 L805.1,739.81 L807.2,739.52 L809.4,739.22 L811.5,738.93 L813.6,738.65 L815.8,738.38 L817.9,738.13 L820.1,737.89 L822.2,737.68 L824.3,737.49 L826.4,737.32 L828.5,737.17 L830.6,737.06 L832.6,736.97 L834.7,736.92 L836.7,736.89 L838.7,736.90 L840.7,736.94 L842.6,737.00 L844.6,737.10 L846.5,737.23 L848.4,737.39 L850.3,737.57 L852.2,737.78 L854.1,738.01 L856.0,738.26 L857.8,738.52 L859.7,738.81 L861.5,739.10 L863.4,739.41 L865.3,739.72 L867.1,740.05 L869.0,740.37 L870.8,740.69 L872.7,741.02 L874.6,741.34 L876.5,741.65 L878.4,741.96 L880.3,742.26 L882.2,742.54 L884.1,742.82 L886.1,743.09 L888.0,743.34 L890.0,743.58 L891.9,743.80 L893.9,744.01 L895.9,744.21 L897.8,744.39 L899.8,744.56 L901.8,744.72 L903.8,744.86 L905.8,744.99 L907.7,745.11 L909.7,745.22 L911.7,745.31 L913.7,745.40 L915.7,745.48 L917.7,745.55 L919.7,745.61 L921.7,745.66 L923.7,745.71 L925.7,745.75 L927.7,745.75 L929.7,745.75 L931.7,745.75 L933.7,745.75 L935.7,745.75 L937.7,745.75 L939.7,745.75 L941.7,745.75 L943.7,745.75 L945.7,745.75 L947.7,745.75 L949.7,745.75 L951.7,745.75 L953.7,745.75 L955.7,745.75 L956.4,745.75 L956.4,745.75 L169.7,745.75 Z" fill="#009E73" fill-opacity="0.15" stroke="none"/>
<path d="M169.7,697.65 L171.7,694.42 L173.7,691.12 L175.7,687.76 L177.7,684.35 L179.7,680.91 L181.7,677.43 L183.7,673.94 L185.7,670.44 L187.7,666.95 L189.7,663.47 L191.7,660.01 L193.7,656.58 L195.7,653.19 L197.7,649.85 L199.7,646.56 L201.7,643.34 L203.7,640.18 L205.7,637.09 L207.7,634.08 L209.7,631.15 L211.7,628.31 L213.7,625.56 L215.7,622.90 L217.7,620.33 L219.7,617.87 L221.7,615.51 L223.7,613.25 L225.7,611.10 L227.7,609.05 L229.7,607.11 L231.7,605.28 L233.7,603.55 L235.7,601.92 L237.7,600.38 L239.7,598.93 L241.7,597.55 L243.7,596.24 L245.7,594.97 L247.7,593.73 L249.7,592.51 L251.7,591.28 L253.7,590.02 L255.7,588.71 L257.7,587.31 L259.7,585.82 L261.7,584.19 L263.7,582.40 L265.7,580.42 L267.7,578.23 L269.7,575.79 L271.7,573.09 L273.7,570.08 L275.8,566.76 L277.8,563.08 L279.8,559.04 L281.8,554.61 L283.9,549.78 L286.0,544.54 L288.0,538.87 L290.1,532.78 L292.2,526.26 L294.3,519.32 L296.5,511.97 L298.6,504.22 L300.7,496.09 L302.8,487.60 L305.0,478.77 L307.1,469.62 L309.1,460.19 L311.2,450.51 L313.2,440.60 L315.2,430.50 L317.2,420.23 L319.1,409.82 L321.0,399.32 L322.9,388.73 L324.8,378.09 L326.6,367.43 L328.5,356.76 L330.4,346.11 L332.3,335.50 L334.2,324.95 L336.1,314.48 L338.0,304.10 L340.0,293.84 L341.9,283.70 L343.9,273.71 L345.8,263.89 L347.8,254.25 L349.8,244.81 L351.8,235.59 L353.8,226.61 L355.8,217.89 L357.8,209.45 L359.8,201.31 L361.8,193.49 L363.9,186.01 L365.9,178.88 L367.9,172.12 L369.9,165.74 L371.9,159.76 L374.0,154.18 L376.0,149.00 L378.0,144.23 L380.0,139.87 L382.0,135.90 L384.1,132.32 L386.1,129.12 L388.1,126.28 L390.2,123.78 L392.2,121.62 L394.2,119.75 L396.2,118.17 L398.3,116.86 L400.3,115.78 L402.3,114.93 L404.4,114.29 L406.4,113.83 L408.4,113.54 L410.5,113.42 L412.5,113.44 L414.5,113.61 L416.5,113.91 L418.6,114.35 L420.6,114.92 L422.6,115.62 L424.6,116.46 L426.6,117.43 L428.7,118.54 L430.7,119.79 L432.7,121.18 L434.7,122.70 L436.7,124.37 L438.7,126.17 L440.7,128.11 L442.7,130.18 L444.7,132.37 L446.7,134.68 L448.7,137.09 L450.7,139.61 L452.7,142.21 L454.6,144.90 L456.6,147.65 L458.6,150.47 L460.6,153.34 L462.6,156.25 L464.5,159.20 L466.5,162.19 L468.5,165.20 L470.5,168.24 L472.4,171.30 L474.4,174.37 L476.4,177.45 L478.3,180.55 L480.3,183.65 L482.3,186.75 L484.3,189.85 L486.2,192.95 L488.2,196.02 L490.2,199.07 L492.1,202.09 L494.1,205.06 L496.1,207.98 L498.1,210.83 L500.0,213.61 L502.0,216.30 L504.0,218.89 L506.0,221.38 L507.9,223.76 L509.9,226.02 L511.9,228.18 L513.9,230.22 L515.9,232.17 L517.9,234.03 L519.8,235.81 L521.8,237.54 L523.8,239.23 L525.8,240.93 L527.8,242.65 L529.8,244.43 L531.8,246.30 L533.8,248.30 L535.8,250.47 L537.8,252.84 L539.8,255.44 L541.8,258.32 L543.8,261.50 L545.8,265.00 L547.9,268.86 L549.9,273.09 L552.0,277.71 L554.0,282.72 L556.1,288.14 L558.2,293.95 L560.3,300.16 L562.3,306.76 L564.4,313.72 L566.5,321.04 L568.5,328.69 L570.5,336.64 L572.5,344.86 L574.5,353.33 L576.4,362.01 L578.4,370.87 L580.3,379.88 L582.2,389.00 L584.1,398.20 L586.0,407.44 L588.0,416.71 L589.9,425.95 L591.9,435.16 L593.8,444.30 L595.8,453.34 L597.8,462.28 L599.7,471.07 L601.7,479.71 L603.7,488.19 L605.7,496.48 L607.7,504.57 L609.7,512.46 L611.7,520.14 L613.7,527.60 L615.7,534.83 L617.7,541.84 L619.7,548.61 L621.7,555.16 L623.7,561.48 L625.7,567.58 L627.7,573.45 L629.7,579.11 L631.7,584.56 L633.7,589.80 L635.7,594.85 L637.7,599.71 L639.7,604.39 L641.7,608.89 L643.7,613.23 L645.7,617.42 L647.7,621.46 L649.7,625.37 L651.7,629.15 L653.7,632.81 L655.7,636.36 L657.7,639.80 L659.7,643.15 L661.7,646.42 L663.7,649.60 L665.7,652.71 L667.7,655.75 L669.7,658.72 L671.7,661.64 L673.7,664.50 L675.7,667.31 L677.7,670.08 L679.7,672.80 L681.7,675.48 L683.7,678.12 L685.7,680.72 L687.7,683.28 L689.7,685.81 L691.7,688.31 L693.7,690.77 L695.7,693.19 L697.7,695.58 L699.7,697.93 L701.7,700.24 L703.7,702.52 L705.7,704.75 L707.7,706.93 L709.7,709.07 L711.7,711.16 L713.7,713.19 L715.7,715.17 L717.7,717.10 L719.7,718.96 L721.7,720.76 L723.7,722.49 L725.7,724.15 L727.7,725.74 L729.7,727.27 L731.7,728.71 L733.7,730.08 L735.7,731.38 L737.7,732.60 L739.7,733.74 L741.7,734.81 L743.7,735.80 L745.7,736.71 L747.7,737.55 L749.7,738.32 L751.7,739.01 L753.7,739.64 L755.7,740.20 L757.7,740.69 L759.7,741.12 L761.7,741.49 L763.8,741.80 L765.8,742.05 L767.8,742.26 L769.8,742.41 L771.8,742.51 L773.8,742.57 L775.9,742.58 L777.9,742.56 L780.0,742.50 L782.0,742.40 L784.1,742.27 L786.1,742.11 L788.2,741.93 L790.3,741.72 L792.4,741.48 L794.5,741.23 L796.6,740.97 L798.7,740.69 L800.8,740.40 L802.9,740.11 L805.1,739.81 L807.2,739.52 L809.4,739.22 L811.5,738.93 L813.6,738.65 L815.8,738.38 L817.9,738.13 L820.1,737.89 L822.2,737.68 L824.3,737.49 L826.4,737.32 L828.5,737.17 L830.6,737.06 L832.6,736.97 L834.7,736.92 L836.7,736.89 L838.7,736.90 L840.7,736.94 L842.6,737.00 L844.6,737.10 L846.5,737.23 L848.4,737.39 L850.3,737.57 L852.2,737.78 L854.1,738.01 L856.0,738.26 L857.8,738.52 L859.7,738.81 L861.5,739.10 L863.4,739.41 L865.3,739.72 L867.1,740.05 L869.0,740.37 L870.8,740.69 L872.7,741.02 L874.6,741.34 L876.5,741.65 L878.4,741.96 L880.3,742.26 L882.2,742.54 L884.1,742.82 L886.1,743.09 L888.0,743.34 L890.0,743.58 L891.9,743.80 L893.9,744.01 L895.9,744.21 L897.8,744.39 L899.8,744.56 L901.8,744.72 L903.8,744.86 L905.8,744.99 L907.7,745.11 L909.7,745.22 L911.7,745.31 L913.7,745.40 L915.7,745.48 L917.7,745.55 L919.7,745.61 L921.7,745.66 L923.7,745.71 L925.7,745.75 L927.7,745.75 L929.7,745.75 L931.7,745.75 L933.7,745.75 L935.7,745.75 L937.7,745.75 L939.7,745.75 L941.7,745.75 L943.7,745.75 L945.7,745.75 L947.7,745.75 L949.7,745.75 L951.7,745.75 L953.7,745.75 L955.7,745.75 L956.4,745.75" fill="none" stroke="#009E73" stroke-width="3" stroke-linejoin="round"/>
<path d="M169.7,742.43 L171.7,742.09 L173.7,741.73 L175.7,741.37 L177.7,740.99 L179.7,740.61 L181.7,740.22 L183.7,739.84 L185.7,739.45 L187.7,739.07 L189.7,738.69 L191.7,738.32 L193.7,737.96 L195.7,737.61 L197.7,737.27 L199.7,736.94 L201.7,736.62 L203.7,736.30 L205.7,736.00 L207.7,735.69 L209.7,735.39 L211.7,735.09 L213.7,734.78 L215.7,734.46 L217.7,734.12 L219.7,733.76 L221.7,733.38 L223.7,732.97 L225.7,732.53 L227.7,732.04 L229.7,731.51 L231.7,730.94 L233.7,730.30 L235.7,729.61 L237.7,728.86 L239.7,728.03 L241.7,727.14 L243.7,726.16 L245.7,725.09 L247.7,723.93 L249.7,722.67 L251.7,721.30 L253.7,719.82 L255.7,718.22 L257.7,716.50 L259.7,714.64 L261.7,712.66 L263.7,710.53 L265.7,708.27 L267.7,705.88 L269.7,703.35 L271.7,700.70 L273.7,697.93 L275.7,695.05 L277.7,692.07 L279.7,689.01 L281.7,685.89 L283.7,682.71 L285.7,679.49 L287.7,676.24 L289.7,672.99 L291.7,669.74 L293.7,666.49 L295.7,663.27 L297.7,660.06 L299.7,656.88 L301.7,653.72 L303.7,650.58 L305.7,647.46 L307.7,644.36 L309.7,641.27 L311.7,638.19 L313.7,635.12 L315.7,632.07 L317.7,629.03 L319.7,626.01 L321.8,623.01 L323.8,620.04 L325.9,617.11 L327.9,614.22 L330.0,611.37 L332.1,608.56 L334.2,605.78 L336.3,603.04 L338.4,600.32 L340.5,597.60 L342.6,594.87 L344.7,592.10 L346.8,589.26 L348.9,586.32 L350.9,583.26 L352.9,580.04 L354.8,576.62 L356.8,572.99 L358.7,569.11 L360.6,564.95 L362.4,560.52 L364.3,555.78 L366.2,550.75 L368.1,545.41 L370.0,539.79 L371.9,533.89 L373.9,527.73 L375.8,521.36 L377.8,514.78 L379.8,508.04 L381.7,501.16 L383.7,494.17 L385.7,487.12 L387.7,480.02 L389.7,472.89 L391.7,465.76 L393.7,458.64 L395.7,451.54 L397.7,444.48 L399.7,437.45 L401.7,430.46 L403.7,423.52 L405.7,416.63 L407.7,409.80 L409.7,403.03 L411.7,396.34 L413.7,389.74 L415.7,383.26 L417.7,376.91 L419.7,370.71 L421.7,364.69 L423.7,358.86 L425.7,353.24 L427.7,347.84 L429.7,342.67 L431.7,337.73 L433.7,333.00 L435.7,328.47 L437.7,324.12 L439.7,319.90 L441.7,315.77 L443.7,311.70 L445.7,307.62 L447.7,303.49 L449.7,299.25 L451.8,294.87 L453.8,290.29 L455.8,285.49 L457.8,280.44 L459.8,275.12 L461.8,269.54 L463.8,263.69 L465.8,257.59 L467.8,251.27 L469.8,244.75 L471.8,238.08 L473.9,231.28 L475.9,224.42 L477.9,217.52 L479.9,210.64 L481.9,203.81 L483.9,197.08 L486.0,190.46 L488.0,184.01 L490.0,177.73 L492.0,171.66 L494.0,165.82 L496.1,160.21 L498.1,154.87 L500.1,149.80 L502.1,145.01 L504.2,140.52 L506.2,136.34 L508.2,132.48 L510.3,128.95 L512.3,125.74 L514.3,122.87 L516.4,120.33 L518.4,118.13 L520.4,116.24 L522.5,114.68 L524.5,113.41 L526.5,112.43 L528.6,111.71 L530.6,111.23 L532.6,110.98 L534.6,110.92 L536.7,111.04 L538.7,111.32 L540.7,111.75 L542.7,112.30 L544.8,112.96 L546.8,113.74 L548.8,114.62 L550.8,115.61 L552.8,116.69 L554.9,117.89 L556.9,119.20 L558.9,120.62 L560.9,122.18 L562.9,123.86 L564.9,125.68 L566.9,127.64 L568.9,129.76 L570.9,132.02 L572.9,134.44 L574.9,137.02 L576.9,139.76 L578.9,142.66 L580.8,145.72 L582.8,148.93 L584.8,152.30 L586.8,155.82 L588.8,159.48 L590.7,163.29 L592.7,167.24 L594.7,171.32 L596.7,175.53 L598.6,179.87 L600.6,184.32 L602.6,188.88 L604.5,193.56 L606.5,198.35 L608.5,203.24 L610.4,208.24 L612.4,213.35 L614.4,218.56 L616.3,223.89 L618.3,229.31 L620.3,234.85 L622.2,240.48 L624.2,246.21 L626.2,252.03 L628.1,257.93 L630.1,263.90 L632.0,269.92 L634.0,275.99 L635.9,282.08 L637.8,288.18 L639.8,294.28 L641.7,300.38 L643.6,306.46 L645.4,312.52 L647.3,318.57 L649.2,324.61 L651.1,330.67 L652.9,336.75 L654.8,342.88 L656.7,349.09 L658.6,355.40 L660.5,361.83 L662.4,368.41 L664.4,375.15 L666.4,382.07 L668.4,389.17 L670.5,396.45 L672.6,403.89 L674.7,411.48 L676.9,419.19 L679.1,426.97 L681.3,434.78 L683.5,442.58 L685.8,450.31 L688.0,457.91 L690.3,465.35 L692.5,472.58 L694.7,479.55 L697.0,486.23 L699.2,492.60 L701.4,498.65 L703.5,504.37 L705.7,509.76 L707.8,514.84 L709.9,519.64 L712.0,524.17 L714.0,528.48 L716.0,532.59 L717.9,536.55 L719.9,540.39 L721.8,544.14 L723.7,547.83 L725.6,551.49 L727.4,555.13 L729.3,558.78 L731.1,562.44 L733.0,566.12 L734.8,569.81 L736.7,573.52 L738.5,577.23 L740.4,580.95 L742.3,584.67 L744.2,588.39 L746.1,592.10 L748.0,595.79 L750.0,599.48 L751.9,603.16 L753.9,606.84 L755.8,610.53 L757.8,614.23 L759.8,617.95 L761.8,621.70 L763.7,625.49 L765.7,629.32 L767.7,633.19 L769.7,637.10 L771.7,641.05 L773.7,645.03 L775.7,649.02 L777.7,653.02 L779.7,657.02 L781.7,660.98 L783.7,664.89 L785.7,668.74 L787.7,672.50 L789.7,676.17 L791.7,679.71 L793.7,683.12 L795.7,686.38 L797.7,689.50 L799.7,692.46 L801.7,695.27 L803.7,697.92 L805.7,700.42 L807.7,702.78 L809.7,705.01 L811.7,707.11 L813.7,709.10 L815.7,710.98 L817.7,712.77 L819.7,714.49 L821.7,716.12 L823.7,717.70 L825.7,719.21 L827.7,720.66 L829.7,722.07 L831.7,723.43 L833.7,724.74 L835.7,726.00 L837.7,727.21 L839.7,728.37 L841.7,729.49 L843.7,730.55 L845.7,731.57 L847.7,732.53 L849.7,733.45 L851.7,734.31 L853.7,735.13 L855.7,735.90 L857.7,736.62 L859.7,737.29 L861.7,737.92 L863.7,738.50 L865.7,739.04 L867.7,739.54 L869.7,740.00 L871.7,740.41 L873.7,740.78 L875.7,741.11 L877.7,741.40 L879.7,741.65 L881.7,741.86 L883.7,742.02 L885.7,742.15 L887.7,742.24 L889.7,742.28 L891.7,742.29 L893.7,742.27 L895.7,742.20 L897.7,742.11 L899.7,741.98 L901.7,741.82 L903.7,741.63 L905.7,741.42 L907.7,741.19 L909.7,740.93 L911.7,740.66 L913.7,740.38 L915.7,740.08 L917.7,739.78 L919.7,739.48 L921.7,739.17 L923.7,738.87 L925.7,738.58 L927.7,738.29 L929.7,738.02 L931.7,737.77 L933.7,737.55 L935.7,737.34 L937.7,737.17 L939.7,737.02 L941.7,736.91 L943.7,736.84 L945.7,736.80 L947.7,736.80 L949.7,736.84 L951.7,736.92 L953.7,737.04 L955.7,737.20 L956.4,737.27 L956.4,745.75 L169.7,745.75 Z" fill="#CC79A7" fill-opacity="0.15" stroke="none"/>
<path d="M169.7,742.43 L171.7,742.09 L173.7,741.73 L175.7,741.37 L177.7,740.99 L179.7,740.61 L181.7,740.22 L183.7,739.84 L185.7,739.45 L187.7,739.07 L189.7,738.69 L191.7,738.32 L193.7,737.96 L195.7,737.61 L197.7,737.27 L199.7,736.94 L201.7,736.62 L203.7,736.30 L205.7,736.00 L207.7,735.69 L209.7,735.39 L211.7,735.09 L213.7,734.78 L215.7,734.46 L217.7,734.12 L219.7,733.76 L221.7,733.38 L223.7,732.97 L225.7,732.53 L227.7,732.04 L229.7,731.51 L231.7,730.94 L233.7,730.30 L235.7,729.61 L237.7,728.86 L239.7,728.03 L241.7,727.14 L243.7,726.16 L245.7,725.09 L247.7,723.93 L249.7,722.67 L251.7,721.30 L253.7,719.82 L255.7,718.22 L257.7,716.50 L259.7,714.64 L261.7,712.66 L263.7,710.53 L265.7,708.27 L267.7,705.88 L269.7,703.35 L271.7,700.70 L273.7,697.93 L275.7,695.05 L277.7,692.07 L279.7,689.01 L281.7,685.89 L283.7,682.71 L285.7,679.49 L287.7,676.24 L289.7,672.99 L291.7,669.74 L293.7,666.49 L295.7,663.27 L297.7,660.06 L299.7,656.88 L301.7,653.72 L303.7,650.58 L305.7,647.46 L307.7,644.36 L309.7,641.27 L311.7,638.19 L313.7,635.12 L315.7,632.07 L317.7,629.03 L319.7,626.01 L321.8,623.01 L323.8,620.04 L325.9,617.11 L327.9,614.22 L330.0,611.37 L332.1,608.56 L334.2,605.78 L336.3,603.04 L338.4,600.32 L340.5,597.60 L342.6,594.87 L344.7,592.10 L346.8,589.26 L348.9,586.32 L350.9,583.26 L352.9,580.04 L354.8,576.62 L356.8,572.99 L358.7,569.11 L360.6,564.95 L362.4,560.52 L364.3,555.78 L366.2,550.75 L368.1,545.41 L370.0,539.79 L371.9,533.89 L373.9,527.73 L375.8,521.36 L377.8,514.78 L379.8,508.04 L381.7,501.16 L383.7,494.17 L385.7,487.12 L387.7,480.02 L389.7,472.89 L391.7,465.76 L393.7,458.64 L395.7,451.54 L397.7,444.48 L399.7,437.45 L401.7,430.46 L403.7,423.52 L405.7,416.63 L407.7,409.80 L409.7,403.03 L411.7,396.34 L413.7,389.74 L415.7,383.26 L417.7,376.91 L419.7,370.71 L421.7,364.69 L423.7,358.86 L425.7,353.24 L427.7,347.84 L429.7,342.67 L431.7,337.73 L433.7,333.00 L435.7,328.47 L437.7,324.12 L439.7,319.90 L441.7,315.77 L443.7,311.70 L445.7,307.62 L447.7,303.49 L449.7,299.25 L451.8,294.87 L453.8,290.29 L455.8,285.49 L457.8,280.44 L459.8,275.12 L461.8,269.54 L463.8,263.69 L465.8,257.59 L467.8,251.27 L469.8,244.75 L471.8,238.08 L473.9,231.28 L475.9,224.42 L477.9,217.52 L479.9,210.64 L481.9,203.81 L483.9,197.08 L486.0,190.46 L488.0,184.01 L490.0,177.73 L492.0,171.66 L494.0,165.82 L496.1,160.21 L498.1,154.87 L500.1,149.80 L502.1,145.01 L504.2,140.52 L506.2,136.34 L508.2,132.48 L510.3,128.95 L512.3,125.74 L514.3,122.87 L516.4,120.33 L518.4,118.13 L520.4,116.24 L522.5,114.68 L524.5,113.41 L526.5,112.43 L528.6,111.71 L530.6,111.23 L532.6,110.98 L534.6,110.92 L536.7,111.04 L538.7,111.32 L540.7,111.75 L542.7,112.30 L544.8,112.96 L546.8,113.74 L548.8,114.62 L550.8,115.61 L552.8,116.69 L554.9,117.89 L556.9,119.20 L558.9,120.62 L560.9,122.18 L562.9,123.86 L564.9,125.68 L566.9,127.64 L568.9,129.76 L570.9,132.02 L572.9,134.44 L574.9,137.02 L576.9,139.76 L578.9,142.66 L580.8,145.72 L582.8,148.93 L584.8,152.30 L586.8,155.82 L588.8,159.48 L590.7,163.29 L592.7,167.24 L594.7,171.32 L596.7,175.53 L598.6,179.87 L600.6,184.32 L602.6,188.88 L604.5,193.56 L606.5,198.35 L608.5,203.24 L610.4,208.24 L612.4,213.35 L614.4,218.56 L616.3,223.89 L618.3,229.31 L620.3,234.85 L622.2,240.48 L624.2,246.21 L626.2,252.03 L628.1,257.93 L630.1,263.90 L632.0,269.92 L634.0,275.99 L635.9,282.08 L637.8,288.18 L639.8,294.28 L641.7,300.38 L643.6,306.46 L645.4,312.52 L647.3,318.57 L649.2,324.61 L651.1,330.67 L652.9,336.75 L654.8,342.88 L656.7,349.09 L658.6,355.40 L660.5,361.83 L662.4,368.41 L664.4,375.15 L666.4,382.07 L668.4,389.17 L670.5,396.45 L672.6,403.89 L674.7,411.48 L676.9,419.19 L679.1,426.97 L681.3,434.78 L683.5,442.58 L685.8,450.31 L688.0,457.91 L690.3,465.35 L692.5,472.58 L694.7,479.55 L697.0,486.23 L699.2,492.60 L701.4,498.65 L703.5,504.37 L705.7,509.76 L707.8,514.84 L709.9,519.64 L712.0,524.17 L714.0,528.48 L716.0,532.59 L717.9,536.55 L719.9,540.39 L721.8,544.14 L723.7,547.83 L725.6,551.49 L727.4,555.13 L729.3,558.78 L731.1,562.44 L733.0,566.12 L734.8,569.81 L736.7,573.52 L738.5,577.23 L740.4,580.95 L742.3,584.67 L744.2,588.39 L746.1,592.10 L748.0,595.79 L750.0,599.48 L751.9,603.16 L753.9,606.84 L755.8,610.53 L757.8,614.23 L759.8,617.95 L761.8,621.70 L763.7,625.49 L765.7,629.32 L767.7,633.19 L769.7,637.10 L771.7,641.05 L773.7,645.03 L775.7,649.02 L777.7,653.02 L779.7,657.02 L781.7,660.98 L783.7,664.89 L785.7,668.74 L787.7,672.50 L789.7,676.17 L791.7,679.71 L793.7,683.12 L795.7,686.38 L797.7,689.50 L799.7,692.46 L801.7,695.27 L803.7,697.92 L805.7,700.42 L807.7,702.78 L809.7,705.01 L811.7,707.11 L813.7,709.10 L815.7,710.98 L817.7,712.77 L819.7,714.49 L821.7,716.12 L823.7,717.70 L825.7,719.21 L827.7,720.66 L829.7,722.07 L831.7,723.43 L833.7,724.74 L835.7,726.00 L837.7,727.21 L839.7,728.37 L841.7,729.49 L843.7,730.55 L845.7,731.57 L847.7,732.53 L849.7,733.45 L851.7,734.31 L853.7,735.13 L855.7,735.90 L857.7,736.62 L859.7,737.29 L861.7,737.92 L863.7,738.50 L865.7,739.04 L867.7,739.54 L869.7,740.00 L871.7,740.41 L873.7,740.78 L875.7,741.11 L877.7,741.40 L879.7,741.65 L881.7,741.86 L883.7,742.02 L885.7,742.15 L887.7,742.24 L889.7,742.28 L891.7,742.29 L893.7,742.27 L895.7,742.20 L897.7,742.11 L899.7,741.98 L901.7,741.82 L903.7,741.63 L905.7,741.42 L907.7,741.19 L909.7,740.93 L911.7,740.66 L913.7,740.38 L915.7,740.08 L917.7,739.78 L919.7,739.48 L921.7,739.17 L923.7,738.87 L925.7,738.58 L927.7,738.29 L929.7,738.02 L931.7,737.77 L933.7,737.55 L935.7,737.34 L937.7,737.17 L939.7,737.02 L941.7,736.91 L943.7,736.84 L945.7,736.80 L947.7,736.80 L949.7,736.84 L951.7,736.92 L953.7,737.04 L955.7,737.20 L956.4,737.27" fill="none" stroke="#CC79A7" stroke-width="3" stroke-linejoin="round"/>
</g>
<g id="axes">
<rect x="129" y="31" width="2" height="750" fill="#A9A9A9"/>
<rect x="129" y="779" width="868" height="2" fill="#A9A9A9"/>
<line x1="119" y1="745.75" x2="129.5" y2="745.75" stroke="#A9A9A9" stroke-width="2"/>
<text x="109.2" y="755.55" text-anchor="end" class="tk">0.0</text>
<line x1="119" y1="578.44" x2="129.5" y2="578.44" stroke="#A9A9A9" stroke-width="2"/>
<text x="109.2" y="588.24" text-anchor="end" class="tk">0.1</text>
<line x1="119" y1="411.13" x2="129.5" y2="411.13" stroke="#A9A9A9" stroke-width="2"/>
<text x="109.2" y="420.93" text-anchor="end" class="tk">0.2</text>
<line x1="119" y1="243.82" x2="129.5" y2="243.82" stroke="#A9A9A9" stroke-width="2"/>
<text x="109.2" y="253.62" text-anchor="end" class="tk">0.3</text>
<line x1="119" y1="76.51" x2="129.5" y2="76.51" stroke="#A9A9A9" stroke-width="2"/>
<text x="109.2" y="86.31" text-anchor="end" class="tk">0.4</text>
<line x1="263.1" y1="780.5" x2="263.1" y2="791" stroke="#A9A9A9" stroke-width="2"/>
<text x="261.9" y="821.9" text-anchor="middle" class="tk" style="letter-spacing:-1.7px"><tspan font-size="23px" dy="-1.3">−</tspan><tspan dy="1.3" dx="1">2.5</tspan></text>
<line x1="541.8" y1="780.5" x2="541.8" y2="791" stroke="#A9A9A9" stroke-width="2"/>
<text x="541.3" y="821.9" text-anchor="middle" class="tk">0.0</text>
<line x1="820.5" y1="780.5" x2="820.5" y2="791" stroke="#A9A9A9" stroke-width="2"/>
<text x="820.0" y="821.9" text-anchor="middle" class="tk">2.5</text>
<text x="563.3" y="862.3" text-anchor="middle" class="lb">y</text>
<text transform="translate(55.3,404.3) rotate(-90)" text-anchor="middle" class="lb" style="font-size:28.3px">pdf</text>
</g>
<g id="legend">
<text x="1100" y="318.6" text-anchor="middle" class="lb">x</text>
<rect x="1032" y="342" width="40" height="40" fill="#0072B2" fill-opacity="0.15"/>
<line x1="1032" y1="362" x2="1072" y2="362" stroke="#0072B2" stroke-width="3"/>
<text x="1081.8" y="371" class="lg">Class 1</text>
<rect x="1032" y="388" width="40" height="40" fill="#E69F00" fill-opacity="0.15"/>
<line x1="1032" y1="408" x2="1072" y2="408" stroke="#E69F00" stroke-width="3"/>
<text x="1081.8" y="417" class="lg">Class 2</text>
<rect x="1032" y="434" width="40" height="40" fill="#009E73" fill-opacity="0.15"/>
<line x1="1032" y1="454" x2="1072" y2="454" stroke="#009E73" stroke-width="3"/>
<text x="1081.8" y="463" class="lg">Class 3</text>
<rect x="1032" y="480" width="40" height="40" fill="#CC79A7" fill-opacity="0.15"/>
<line x1="1032" y1="500" x2="1072" y2="500" stroke="#CC79A7" stroke-width="3"/>
<text x="1081.8" y="509" class="lg">Class 4</text>
</g>
</svg>
</body></html>
